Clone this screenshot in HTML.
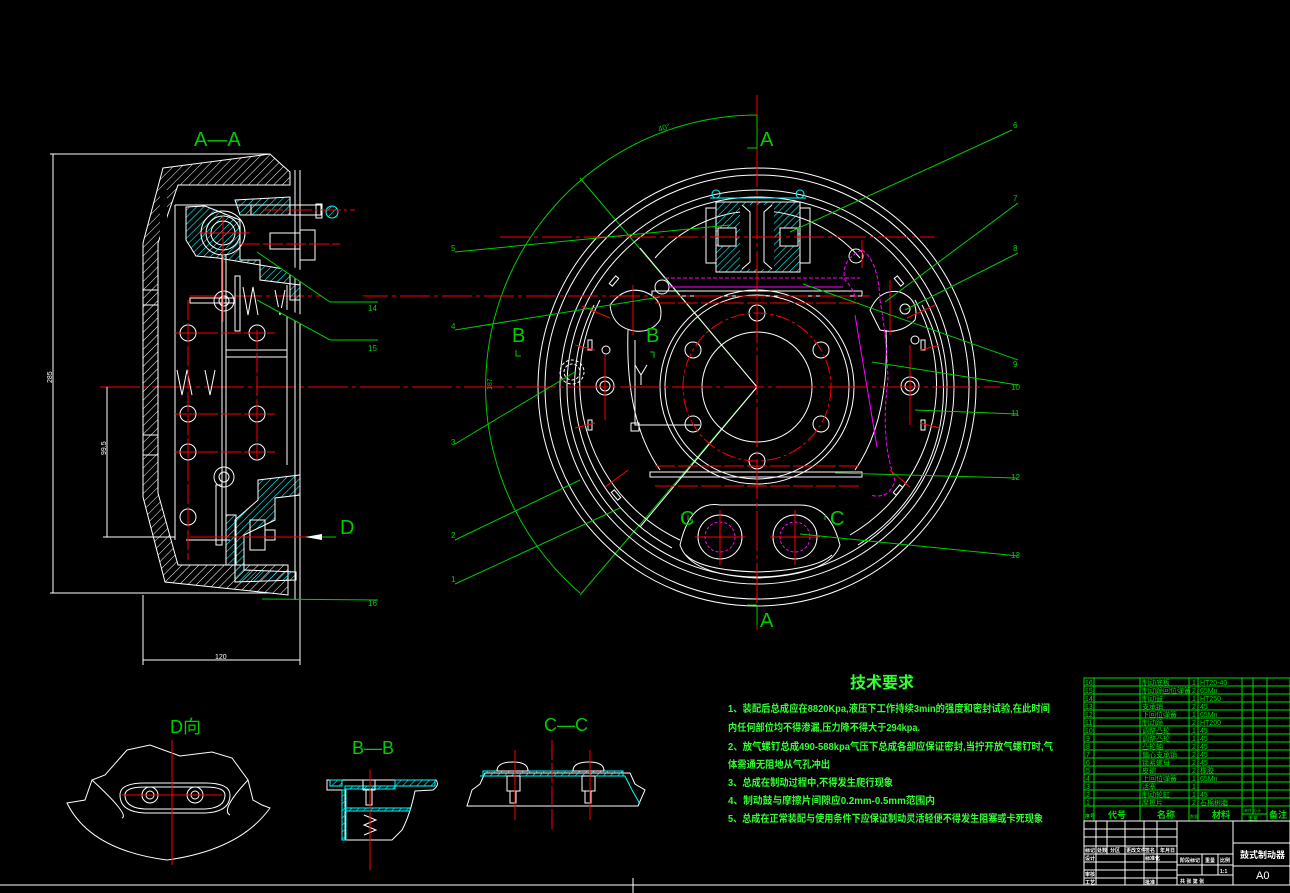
<!DOCTYPE html>
<html><head><meta charset="utf-8"><style>
html,body{margin:0;padding:0;background:#000;}
svg{display:block}
text{font-family:"Liberation Sans","Noto Sans CJK SC",sans-serif;}
</style></head><body>
<svg width="1290" height="893" viewBox="0 0 1290 893" xmlns="http://www.w3.org/2000/svg">
<defs>
<pattern id="hw" width="6" height="6" patternUnits="userSpaceOnUse" patternTransform="rotate(45)"><line x1="0" y1="0" x2="0" y2="6" stroke="#fff" stroke-width="1"/></pattern>
<pattern id="hc" width="5" height="5" patternUnits="userSpaceOnUse" patternTransform="rotate(45)"><line x1="0" y1="0" x2="0" y2="5" stroke="#0ff" stroke-width="1.2"/></pattern>
</defs>
<rect width="1290" height="893" fill="#000"/>
<line x1="0" y1="885" x2="1290" y2="885" stroke="#fff" stroke-width="1"/>
<line x1="633" y1="878" x2="633" y2="893" stroke="#fff"/>

<g fill="none" stroke-width="1">
<path d="M757 115 A272 272 0 0 0 580 593" stroke="#0c0"/>
<line x1="580" y1="178" x2="757" y2="387" stroke="#0c0"/>
<line x1="580" y1="595" x2="757" y2="387" stroke="#0c0"/>
<line x1="640" y1="248" x2="757" y2="387" stroke="#fff"/>
<line x1="640" y1="527" x2="757" y2="387" stroke="#fff"/>
<text x="658" y="131" fill="#0c0" font-size="8" stroke="none" transform="rotate(-18 662 128)">40°</text>
<text x="490" y="392" fill="#0c0" font-size="7" stroke="none" transform="rotate(-90 490 390)">187</text>
<g stroke="#fff">
<circle cx="757" cy="387" r="219"/>
<circle cx="757" cy="387" r="212"/>
<circle cx="757" cy="387" r="197"/>
<circle cx="757" cy="387" r="190"/>
<path d="M600 300 A175 175 0 0 0 680 540"/>
<path d="M594 305 A182 182 0 0 0 672 548"/>
<path d="M915 300 A175 175 0 0 1 850 535"/>
<path d="M922 305 A182 182 0 0 1 858 545"/>
<path d="M628 330 Q625 420 660 470"/>
<path d="M886 330 Q890 420 855 470"/>
<path d="M655 258 A135 135 0 0 1 860 258"/>
<circle cx="757" cy="387" r="97"/>
<circle cx="757" cy="387" r="92"/>
<circle cx="757" cy="387" r="55"/>
<circle cx="757" cy="313" r="8"/><circle cx="757" cy="461" r="8"/>
<circle cx="693" cy="350" r="8"/><circle cx="821" cy="350" r="8"/>
<circle cx="693" cy="424" r="8"/><circle cx="821" cy="424" r="8"/>
<path d="M680 545 Q690 500 720 505 L800 505 Q830 505 840 545 Q830 575 757 578 Q690 575 680 545Z"/>
<path d="M686 555 Q700 570 757 572 Q815 570 832 555"/>
<circle cx="720" cy="537" r="22"/><circle cx="795" cy="537" r="22"/>
<path d="M610 305 Q625 285 645 292 Q665 300 660 320 Q650 335 630 330 Q612 325 610 305Z"/>
<path d="M870 310 Q880 288 900 292 Q920 300 915 320 Q900 335 880 330 Z"/>
<circle cx="910" cy="386" r="9"/><circle cx="910" cy="386" r="5"/>
<circle cx="605" cy="386" r="9"/><circle cx="605" cy="386" r="5"/>
<circle cx="915" cy="340" r="4"/><circle cx="606" cy="350" r="4"/>
<circle cx="572" cy="372" r="12" stroke-dasharray="3 2"/><circle cx="572" cy="372" r="8" stroke-dasharray="3 2"/>
<circle cx="905" cy="309" r="5"/>
<circle cx="662" cy="287" r="7"/><circle cx="856" cy="256" r="7"/>
<rect x="652" y="291" width="210" height="5"/>
<rect x="650" y="472" width="212" height="5"/>
<path d="M635 365 L641 375 L647 365 M641 375 L641 385"/>
<path d="M635 340 L635 425 L700 425"/>
<rect x="631" y="423" width="8" height="8"/>
<g stroke="#fff"><rect x="612" y="276" width="4" height="10" transform="rotate(40 614 281)"/><rect x="588" y="340" width="4" height="10"/><rect x="588" y="420" width="4" height="10"/><rect x="614" y="490" width="4" height="10" transform="rotate(-40 616 495)"/>
<rect x="897" y="276" width="4" height="10" transform="rotate(-40 899 281)"/><rect x="921" y="340" width="4" height="10"/><rect x="921" y="420" width="4" height="10"/><rect x="896" y="485" width="4" height="10" transform="rotate(40 898 490)"/></g>
</g>
<g stroke="#f0f">
<line x1="665" y1="278" x2="860" y2="278" stroke-dasharray="4 2"/>
<line x1="668" y1="287" x2="843" y2="287"/>
<line x1="855" y1="315" x2="877" y2="447"/>
<path d="M862 250 Q840 260 845 280 Q855 290 855 300 M862 250 Q878 260 880 300 Q887 340 888 380 Q880 440 895 480 Q890 500 870 495" stroke-dasharray="4 2"/>
<circle cx="720" cy="537" r="15" stroke-dasharray="3 2"/><circle cx="795" cy="537" r="15" stroke-dasharray="3 2"/>
</g>
<rect x="716" y="202" width="84" height="70" fill="url(#hc)" stroke="#fff"/>
<rect x="740" y="205" width="34" height="64" fill="#000" stroke="none"/>
<path d="M742 205 L750 212 L750 262 L742 269 M772 205 L764 212 L764 262 L772 269" stroke="#fff"/>
<rect x="706" y="208" width="10" height="55" stroke="#fff"/><rect x="800" y="208" width="10" height="55" stroke="#fff"/>
<rect x="718" y="228" width="18" height="18" fill="#000" stroke="#fff"/><rect x="780" y="228" width="18" height="18" fill="#000" stroke="#fff"/>
<path d="M710 198 L806 198" stroke="#0ff"/>
<circle cx="716" cy="194" r="4" stroke="#0ff"/><circle cx="800" cy="194" r="4" stroke="#0ff"/>
<g stroke="#f00">
<line x1="757" y1="95" x2="757" y2="630" stroke-dasharray="40 4 4 4"/>
<line x1="100" y1="387" x2="1000" y2="387" stroke-dasharray="40 4 4 4"/>
<line x1="500" y1="237" x2="935" y2="237" stroke-dasharray="30 4 4 4"/>
<line x1="190" y1="296" x2="870" y2="296" stroke-dasharray="30 4 4 4"/>
<line x1="655" y1="303" x2="862" y2="303" stroke-dasharray="20 3"/>
<line x1="655" y1="466" x2="862" y2="466" stroke-dasharray="20 3"/>
<line x1="655" y1="486" x2="862" y2="486" stroke-dasharray="20 3"/>
<circle cx="757" cy="387" r="74" stroke-dasharray="14 3 3 3"/>
<line x1="605" y1="355" x2="605" y2="420"/><line x1="910" y1="345" x2="910" y2="425"/>
<line x1="720" y1="510" x2="720" y2="565"/><line x1="795" y1="510" x2="795" y2="565"/>
<line x1="695" y1="537" x2="745" y2="537"/><line x1="770" y1="537" x2="820" y2="537"/>
<line x1="633" y1="285" x2="633" y2="335"/><line x1="890" y1="280" x2="890" y2="335"/>
<line x1="862" y1="240" x2="862" y2="268"/>
<line x1="582" y1="306" x2="610" y2="318"/><line x1="575" y1="345" x2="595" y2="350"/><line x1="575" y1="428" x2="595" y2="423"/><line x1="605" y1="487" x2="628" y2="470"/>
<line x1="907" y1="318" x2="935" y2="305"/><line x1="920" y1="350" x2="940" y2="345"/><line x1="920" y1="423" x2="940" y2="428"/><line x1="890" y1="470" x2="910" y2="487"/>
</g>
<g stroke="#0c0">
<polyline points="1012,130 790,232"/><polyline points="1018,203 885,302"/><polyline points="1018,253 905,310"/>
<polyline points="1018,360 803,284"/><polyline points="1018,385 872,362"/><polyline points="1018,414 915,410"/>
<polyline points="1018,478 835,473"/><polyline points="1018,556 800,534"/>
<polyline points="455,252 730,225"/><polyline points="455,330 660,297"/><polyline points="455,444 575,372"/>
<polyline points="455,540 580,480"/><polyline points="455,584 620,508"/>
<line x1="757" y1="115" x2="757" y2="148"/><line x1="747" y1="148" x2="757" y2="148"/>
<line x1="757" y1="605" x2="757" y2="625"/><line x1="747" y1="605" x2="757" y2="605"/>
<path d="M516 350 L516 356 L521 356"/><path d="M650 352 L654 352 L654 358"/>
<path d="M688 515 L688 520 L693 520"/><path d="M825 515 L825 520"/>
</g>
<g fill="#0c0" font-size="8" stroke="none">
<text x="1013" y="128">6</text><text x="1013" y="201">7</text><text x="1013" y="251">8</text><text x="1013" y="367">9</text><text x="1011" y="390">10</text><text x="1011" y="416">11</text><text x="1011" y="480">12</text><text x="1011" y="558">13</text>
<text x="451" y="251">5</text><text x="451" y="329">4</text><text x="451" y="445">3</text><text x="451" y="538">2</text><text x="451" y="582">1</text>
</g>
<g fill="#0c0" font-size="20" stroke="none">
<text x="760" y="146">A</text><text x="760" y="627">A</text>
<text x="512" y="342">B</text><text x="646" y="342">B</text>
<text x="680" y="525">C</text><text x="830" y="525">C</text>
</g>
</g>

<g fill="none" stroke="#fff" stroke-width="1">
<text x="194" y="146" fill="#0c0" stroke="none" font-size="20">A—A</text>
<path d="M163 168 L270 154 L282 165 L290 172 L290 185 L178 185 L158 243 L158 493 L178 565 L288 565 L288 595 L270 593 L165 582 L143 497 L143 243 Z" fill="url(#hw)"/>
<rect x="160" y="190" width="7" height="130" fill="#000" stroke="none"/>
<path d="M143 290 L158 290 M143 305 L158 305 M143 435 L158 435 M143 455 L158 455" />
<path d="M186 207 L205 206 L220 212 L240 220 L240 260 L260 260 L260 280 L300 285 L300 300 L290 300 L290 270 L218 258 L196 256 L186 240 Z" fill="url(#hc)"/>
<path d="M235 200 L290 197 L290 215 L240 215 Z" fill="url(#hc)"/>
<path d="M258 480 L300 475 L300 495 L275 498 L275 520 L244 535 L244 570 L296 572 L296 580 L235 582 L235 520 L258 500Z" fill="url(#hc)"/>
<rect x="226" y="515" width="10" height="50" fill="url(#hc)"/>
<circle cx="223" cy="233" r="22"/><circle cx="223" cy="233" r="17"/><circle cx="223" cy="233" r="12"/>
<rect x="251" y="205" width="70" height="10"/><rect x="316" y="204" width="6" height="14"/>
<circle cx="332" cy="212" r="6" stroke="#0ff" fill="url(#hc)"/>
<rect x="270" y="233" width="30" height="16"/><rect x="300" y="230" width="15" height="30"/>
<line x1="175" y1="205" x2="175" y2="540"/><line x1="175" y1="205" x2="290" y2="205"/>
<line x1="186" y1="540" x2="230" y2="540"/>
<line x1="143" y1="595" x2="143" y2="665"/><line x1="300" y1="170" x2="300" y2="665"/>
<line x1="295" y1="170" x2="295" y2="600"/>
<line x1="222" y1="255" x2="222" y2="545"/><line x1="226" y1="255" x2="226" y2="545"/>
<line x1="287" y1="285" x2="287" y2="465"/>
<line x1="226" y1="350" x2="287" y2="350"/><line x1="226" y1="357" x2="287" y2="357"/>
<circle cx="224" cy="301" r="10"/><circle cx="224" cy="301" r="5"/>
<circle cx="224" cy="477" r="10"/><circle cx="224" cy="477" r="5"/>
<rect x="235" y="276" width="5" height="55"/><rect x="190" y="298" width="45" height="5"/>
<rect x="216" y="485" width="6" height="60"/>
<rect x="250" y="520" width="15" height="30"/><rect x="265" y="530" width="10" height="10"/>
<path d="M243 287 L248 315 L253 287 L258 315 M275 290 L280 315 L285 290" />
<path d="M177 370 L182 395 L187 370 L192 395 M205 370 L210 395 L215 370" />
<g><circle cx="188" cy="333" r="8"/><circle cx="257" cy="333" r="8"/><circle cx="188" cy="414" r="8"/><circle cx="257" cy="414" r="8"/><circle cx="188" cy="452" r="8"/><circle cx="257" cy="452" r="8"/><circle cx="188" cy="517" r="8"/></g>
<line x1="53" y1="154" x2="53" y2="593"/><line x1="50" y1="154" x2="270" y2="154"/><line x1="50" y1="593" x2="270" y2="593"/>
<line x1="107" y1="387" x2="107" y2="537"/><line x1="103" y1="537" x2="175" y2="537"/>
<line x1="143" y1="660" x2="300" y2="660"/>
<text x="57" y="392" fill="#fff" stroke="none" font-size="7" transform="rotate(-90 50 390)">285</text>
<text x="112" y="465" fill="#fff" stroke="none" font-size="7" transform="rotate(-90 104 463)">99.5</text>
<text x="215" y="659" fill="#fff" stroke="none" font-size="7">120</text>
</g>
<g stroke="#f00" fill="none">
<line x1="263" y1="210" x2="355" y2="210" stroke-dasharray="20 3 3 3"/>
<line x1="240" y1="244" x2="340" y2="244" stroke-dasharray="20 3"/>
<line x1="223" y1="215" x2="223" y2="322"/><line x1="200" y1="233" x2="250" y2="233"/>
<line x1="188" y1="300" x2="188" y2="560" stroke-dasharray="20 3"/><line x1="257" y1="330" x2="257" y2="460" stroke-dasharray="20 3"/>
<line x1="175" y1="333" x2="275" y2="333" stroke-dasharray="20 3"/><line x1="175" y1="414" x2="275" y2="414" stroke-dasharray="20 3"/>
<line x1="175" y1="452" x2="275" y2="452" stroke-dasharray="20 3"/>
<line x1="190" y1="537" x2="310" y2="537"/>
</g>
<path d="M305 537 L322 534 L322 540Z" fill="#fff"/>
<line x1="322" y1="537" x2="336" y2="537" stroke="#0c0"/>
<text x="340" y="534" fill="#0c0" font-size="20">D</text>
<g stroke="#0c0"><polyline points="257,252 330,302 378,302"/><polyline points="257,300 330,340 378,340"/><polyline points="262,599 378,600"/></g>
<g fill="#0c0" font-size="8"><text x="368" y="311">14</text><text x="368" y="351">15</text><text x="368" y="606">16</text></g>

<g fill="none" stroke="#fff">
<text x="170" y="733" fill="#0c0" stroke="none" font-size="18">D向</text>
<path d="M67 803 L85 800 L92 780 L105 775 L127 750 L150 745 L180 756 L212 752 L232 758 L248 780 L253 800 L262 805 L270 808 Q240 850 167 860 Q90 850 67 803Z"/>
<path d="M92 780 Q130 815 122 818 M248 780 Q220 810 230 815"/>
<path d="M120 795 Q120 783 145 783 L205 783 Q230 783 230 795 Q230 812 205 813 L145 813 Q120 812 120 795Z"/>
<path d="M125 795 Q125 787 145 787 L205 787 Q225 787 225 795 Q225 808 205 809 L145 809 Q125 808 125 795Z"/>
<circle cx="150" cy="795" r="8"/><circle cx="150" cy="795" r="4"/>
<circle cx="195" cy="795" r="8"/><circle cx="195" cy="795" r="4"/>
</g>
<g stroke="#f00"><line x1="172" y1="740" x2="172" y2="865"/><line x1="122" y1="795" x2="222" y2="795"/></g>

<text x="352" y="754" fill="#0c0" font-size="18">B—B</text>
<g fill="none" stroke="#fff">
<path d="M327 780 L436 780 Q440 785 433 790 L415 791 Q410 815 402 830 L392 840 L345 840 L345 790 L327 790Z"/>
<rect x="330" y="780" width="12" height="6" fill="url(#hc)" stroke="#0ff"/>
<rect x="395" y="780" width="40" height="6" fill="url(#hc)" stroke="#0ff"/>
<rect x="345" y="786" width="50" height="3" fill="url(#hc)" stroke="#0ff"/>
<rect x="345" y="808" width="65" height="3" fill="url(#hc)" stroke="#0ff"/>
<rect x="342" y="790" width="4" height="50" fill="url(#hc)" stroke="#0ff"/>
<rect x="363" y="780" width="12" height="10"/><rect x="366" y="790" width="6" height="15"/>
<path d="M364 815 L376 820 L364 825 L376 830 L364 835"/>
</g>
<line x1="370" y1="770" x2="370" y2="870" stroke="#f00"/>

<text x="544" y="731" fill="#0c0" font-size="18">C—C</text>
<g fill="none" stroke="#fff">
<path d="M467 806 L472 790 L480 784 L485 773 L630 773 L635 784 L645 790 L638 806 Z"/>
<path d="M480 776 L625 776 L632 790 L640 804" stroke="#0ff"/>
<rect x="483" y="771" width="140" height="5" fill="url(#hc)" stroke="#0ff"/>
<path d="M497 771 Q497 762 513 762 Q528 762 528 771Z"/><path d="M573 771 Q573 762 589 762 Q604 762 604 771Z"/>
<rect x="507" y="776" width="13" height="15"/><rect x="510" y="791" width="6" height="12"/>
<rect x="582" y="776" width="13" height="15"/><rect x="585" y="791" width="6" height="12"/>
</g>
<g stroke="#f00"><line x1="515" y1="750" x2="515" y2="820"/><line x1="590" y1="750" x2="590" y2="820"/><line x1="552" y1="740" x2="552" y2="830" stroke-dasharray="20 3"/></g>

<g fill="#3f3" font-size="10" font-weight="bold">
<text x="850" y="688" font-size="16">技术要求</text>
<text x="728" y="712" textLength="322" lengthAdjust="spacingAndGlyphs">1、装配后总成应在8820Kpa,液压下工作持续3min的强度和密封试验,在此时间</text>
<text x="728" y="731" textLength="192" lengthAdjust="spacingAndGlyphs">内任何部位均不得渗漏,压力降不得大于294kpa.</text>
<text x="728" y="750" textLength="325" lengthAdjust="spacingAndGlyphs">2、放气螺钉总成490-588kpa气压下总成各部应保证密封,当拧开放气螺钉时,气</text>
<text x="728" y="768" textLength="102" lengthAdjust="spacingAndGlyphs">体需通无阻地从气孔冲出</text>
<text x="728" y="786" textLength="165" lengthAdjust="spacingAndGlyphs">3、总成在制动过程中,不得发生爬行现象</text>
<text x="728" y="804" textLength="207" lengthAdjust="spacingAndGlyphs">4、制动鼓与摩擦片间隙应0.2mm-0.5mm范围内</text>
<text x="728" y="822" textLength="315" lengthAdjust="spacingAndGlyphs">5、总成在正常装配与使用条件下应保证制动灵活轻便不得发生阻塞或卡死现象</text>
</g>

<g stroke="#0d0" fill="none">
<rect x="1084" y="678" width="206" height="143"/>
<line x1="1084" y1="686" x2="1290" y2="686"/><line x1="1084" y1="694" x2="1290" y2="694"/><line x1="1084" y1="702" x2="1290" y2="702"/><line x1="1084" y1="710" x2="1290" y2="710"/><line x1="1084" y1="718" x2="1290" y2="718"/><line x1="1084" y1="726" x2="1290" y2="726"/><line x1="1084" y1="734" x2="1290" y2="734"/><line x1="1084" y1="742" x2="1290" y2="742"/><line x1="1084" y1="750" x2="1290" y2="750"/><line x1="1084" y1="758" x2="1290" y2="758"/><line x1="1084" y1="766" x2="1290" y2="766"/><line x1="1084" y1="774" x2="1290" y2="774"/><line x1="1084" y1="782" x2="1290" y2="782"/><line x1="1084" y1="790" x2="1290" y2="790"/><line x1="1084" y1="798" x2="1290" y2="798"/><line x1="1084" y1="806" x2="1290" y2="806"/>
<line x1="1094" y1="678" x2="1094" y2="821"/><line x1="1140" y1="678" x2="1140" y2="821"/><line x1="1189" y1="678" x2="1189" y2="821"/><line x1="1198" y1="678" x2="1198" y2="821"/><line x1="1242" y1="678" x2="1242" y2="821"/><line x1="1253" y1="678" x2="1253" y2="814"/><line x1="1267" y1="678" x2="1267" y2="821"/>
<line x1="1242" y1="814" x2="1267" y2="814"/>
</g>
<g fill="#0d0" font-size="7">
<text x="1085" y="685">16</text><text x="1085" y="693">15</text><text x="1085" y="701">14</text><text x="1085" y="709">13</text><text x="1085" y="717">12</text><text x="1085" y="725">11</text><text x="1085" y="733">10</text><text x="1086" y="741">9</text><text x="1086" y="749">8</text><text x="1086" y="757">7</text><text x="1086" y="765">6</text><text x="1086" y="773">5</text><text x="1086" y="781">4</text><text x="1086" y="789">3</text><text x="1086" y="797">2</text><text x="1086" y="805">1</text>
<text x="1142" y="685">制动底板</text><text x="1142" y="693">制动蹄回位弹簧</text><text x="1142" y="701">制动鼓</text><text x="1142" y="709">支承销</text><text x="1142" y="717">下回位弹簧</text><text x="1142" y="725">制动蹄</text><text x="1142" y="733">调整凸轮</text><text x="1142" y="741">调整凸轮</text><text x="1142" y="749">凸轮轴</text><text x="1142" y="757">偏心支承销</text><text x="1142" y="765">锁紧螺母</text><text x="1142" y="773">皮碗</text><text x="1142" y="781">上回位弹簧</text><text x="1142" y="789">活塞</text><text x="1142" y="797">制动轮缸</text><text x="1142" y="805">摩擦片</text>
<text x="1192" y="685">1</text><text x="1192" y="693">2</text><text x="1192" y="701">1</text><text x="1192" y="709">2</text><text x="1192" y="717">1</text><text x="1192" y="725">2</text><text x="1192" y="733">1</text><text x="1192" y="741">1</text><text x="1192" y="749">2</text><text x="1192" y="757">2</text><text x="1192" y="765">2</text><text x="1192" y="773">2</text><text x="1192" y="781">1</text><text x="1192" y="789">1</text><text x="1192" y="797">1</text><text x="1192" y="805">2</text>
<text x="1200" y="685">HT20-40</text><text x="1200" y="693">65Mn</text><text x="1200" y="701">HT250</text><text x="1200" y="709">45</text><text x="1200" y="717">65Mn</text><text x="1200" y="725">HT200</text><text x="1200" y="733">45</text><text x="1200" y="741">45</text><text x="1200" y="749">45</text><text x="1200" y="757">45</text><text x="1200" y="765">45</text><text x="1200" y="773">橡胶</text><text x="1200" y="781">65Mn</text><text x="1200" y="797">45</text><text x="1200" y="805">石棉树脂</text>
<text x="1085" y="818" font-size="5" font-weight="bold">序号</text><text x="1108" y="818" font-size="9" font-weight="bold">代号</text><text x="1157" y="818" font-size="9" font-weight="bold">名称</text><text x="1190" y="818" font-size="4">数量</text><text x="1212" y="818" font-size="9" font-weight="bold">材料</text><text x="1244" y="812" font-size="4">单件 总计</text><text x="1248" y="820" font-size="5">重量</text><text x="1269" y="818" font-size="9" font-weight="bold">备注</text>
</g>
<g stroke="#fff" fill="none">
<rect x="1084" y="821" width="206" height="64"/>
<line x1="1084" y1="829" x2="1177" y2="829"/><line x1="1084" y1="837" x2="1177" y2="837"/><line x1="1084" y1="846" x2="1177" y2="846"/><line x1="1084" y1="854" x2="1233" y2="854"/><line x1="1084" y1="862" x2="1177" y2="862"/><line x1="1084" y1="870" x2="1177" y2="870"/><line x1="1084" y1="878" x2="1177" y2="878"/>
<line x1="1177" y1="865" x2="1233" y2="865"/><line x1="1177" y1="875" x2="1233" y2="875"/>
<line x1="1096" y1="821" x2="1096" y2="885"/><line x1="1107" y1="821" x2="1107" y2="854"/><line x1="1125" y1="821" x2="1125" y2="885"/><line x1="1144" y1="821" x2="1144" y2="885"/><line x1="1157" y1="821" x2="1157" y2="885"/><line x1="1177" y1="821" x2="1177" y2="885"/><line x1="1233" y1="821" x2="1233" y2="885"/>
<line x1="1233" y1="843" x2="1290" y2="843"/><line x1="1233" y1="866" x2="1290" y2="866"/>
<line x1="1202" y1="854" x2="1202" y2="875"/><line x1="1218" y1="854" x2="1218" y2="875"/>
</g>
<g fill="#fff" font-size="5" font-weight="bold">
<text x="1085" y="852">标记</text><text x="1097" y="852">处数</text><text x="1110" y="852">分区</text><text x="1126" y="852">更改文件</text><text x="1145" y="852">签名</text><text x="1160" y="852">年月日</text>
<text x="1085" y="860">设计</text><text x="1145" y="860">标准化</text><text x="1085" y="876">审核</text><text x="1085" y="884">工艺</text><text x="1145" y="884">批准</text>
<text x="1180" y="862">阶段标记</text><text x="1205" y="862">重量</text><text x="1220" y="862">比例</text><text x="1220" y="873">1:1</text>
<text x="1180" y="883">共 张 第 张</text>
<text x="1240" y="858" font-size="9">鼓式制动器</text>
<text x="1256" y="879" font-size="11" font-weight="normal">A0</text>
</g>
</svg>
</body></html>
